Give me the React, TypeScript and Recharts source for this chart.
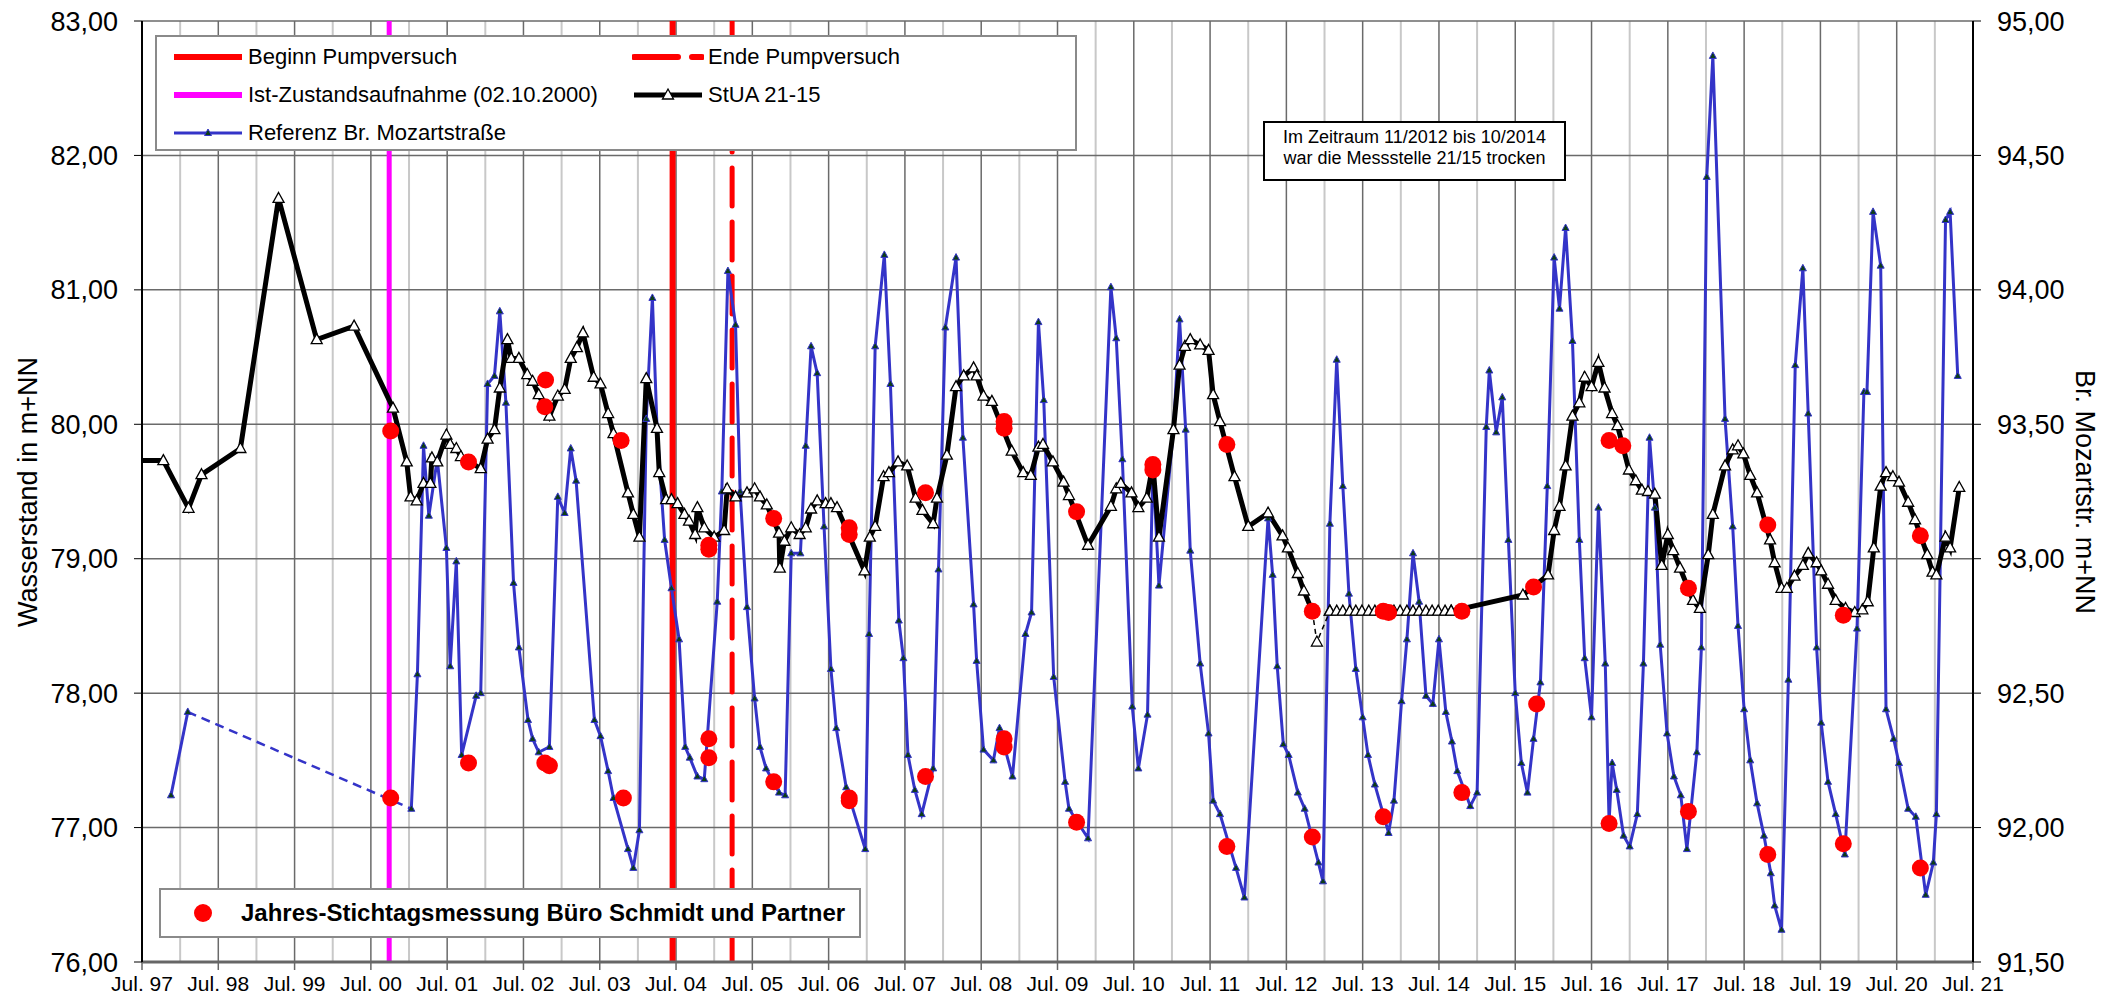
import { ComposedChart, Line, Scatter, XAxis, YAxis, CartesianGrid } from "recharts";

const FONT = '"Liberation Sans", Arial, Helvetica, sans-serif';

const X_LABELS = [
  "Jul. 97", "Jul. 98", "Jul. 99", "Jul. 00", "Jul. 01", "Jul. 02", "Jul. 03",
  "Jul. 04", "Jul. 05", "Jul. 06", "Jul. 07", "Jul. 08", "Jul. 09", "Jul. 10",
  "Jul. 11", "Jul. 12", "Jul. 13", "Jul. 14", "Jul. 15", "Jul. 16", "Jul. 17",
  "Jul. 18", "Jul. 19", "Jul. 20", "Jul. 21",
];
const JUL_TICKS = X_LABELS.map((_, i) => 1997.5 + i);
const JAN_TICKS = X_LABELS.slice(1).map((_, i) => 1998 + i);
const LEFT_TICKS = [76, 77, 78, 79, 80, 81, 82, 83];
const RIGHT_TICKS = [91.5, 92, 92.5, 93, 93.5, 94, 94.5, 95];

// event dates (decimal years)
const IST_ZUSTAND = 2000.74;
const BEGINN_PV = 2004.455;
const ENDE_PV = 2005.235;

// StUA 21-15 (left axis, m+NN)
const STUA_A: [number, number][] = [
  [1997.4, 79.73], [1997.78, 79.73], [1998.11, 79.375], [1998.28, 79.625], [1998.79, 79.82],
  [1999.29, 81.68], [1999.79, 80.63], [2000.28, 80.73], [2000.79, 80.12], [2000.97, 79.72],
  [2001.02, 79.46], [2001.1, 79.43], [2001.19, 79.56], [2001.28, 79.56], [2001.3, 79.75],
  [2001.37, 79.72], [2001.49, 79.92], [2001.54, 79.85], [2001.62, 79.82], [2001.68, 79.76],
  [2001.94, 79.67], [2002.03, 79.89], [2002.12, 79.96], [2002.19, 80.27], [2002.29, 80.63],
  [2002.34, 80.49], [2002.44, 80.49], [2002.55, 80.37], [2002.62, 80.32], [2002.7, 80.22],
  [2002.84, 80.06], [2002.95, 80.21], [2003.04, 80.26], [2003.12, 80.49], [2003.2, 80.57],
  [2003.28, 80.68], [2003.42, 80.35], [2003.51, 80.3], [2003.61, 80.08], [2003.68, 79.93],
  [2003.87, 79.49], [2003.94, 79.33], [2004.02, 79.16], [2004.11, 80.34], [2004.25, 79.97],
  [2004.28, 79.64], [2004.37, 79.44], [2004.44, 79.44], [2004.52, 79.41], [2004.61, 79.33],
  [2004.67, 79.28], [2004.75, 79.18], [2004.78, 79.38], [2004.87, 79.23], [2005.0, 79.16],
  [2005.13, 79.21], [2005.17, 79.52], [2005.28, 79.46], [2005.43, 79.49], [2005.53, 79.52],
  [2005.6, 79.46], [2005.69, 79.4], [2005.85, 79.19], [2005.86, 78.93], [2005.92, 79.13],
  [2006.01, 79.23], [2006.12, 79.18], [2006.2, 79.23], [2006.27, 79.37], [2006.35, 79.43],
  [2006.46, 79.41], [2006.53, 79.41], [2006.61, 79.38], [2006.97, 78.91], [2007.04, 79.16],
  [2007.11, 79.24], [2007.22, 79.61], [2007.29, 79.64], [2007.41, 79.72], [2007.53, 79.69],
  [2007.64, 79.45], [2007.73, 79.36], [2007.87, 79.26], [2007.92, 79.45], [2008.05, 79.77],
  [2008.17, 80.28], [2008.27, 80.36], [2008.4, 80.42], [2008.44, 80.36], [2008.53, 80.21],
  [2008.64, 80.17], [2008.9, 79.8], [2009.05, 79.64], [2009.15, 79.62], [2009.25, 79.83],
  [2009.31, 79.85], [2009.44, 79.72], [2009.58, 79.57], [2009.65, 79.47], [2009.9, 79.1],
  [2010.2, 79.39], [2010.27, 79.52], [2010.33, 79.56], [2010.47, 79.49], [2010.56, 79.38],
  [2010.67, 79.45], [2010.75, 79.7], [2010.83, 79.16], [2011.02, 79.96], [2011.1, 80.44],
  [2011.17, 80.58], [2011.24, 80.63], [2011.37, 80.59], [2011.48, 80.55], [2011.54, 80.22],
  [2011.63, 80.02], [2011.82, 79.61], [2012.0, 79.24], [2012.26, 79.34], [2012.45, 79.17],
  [2012.52, 79.08], [2012.65, 78.89], [2012.73, 78.76], [2012.84, 78.61],
];
const STUA_B: [number, number][] = [
  [2014.66, 78.61], [2015.6, 78.73], [2015.93, 78.88], [2016.01, 79.21], [2016.08, 79.39],
  [2016.16, 79.69], [2016.25, 80.06], [2016.34, 80.16], [2016.41, 80.35], [2016.5, 80.28],
  [2016.59, 80.46], [2016.67, 80.27], [2016.77, 80.08], [2016.84, 79.99], [2016.99, 79.66],
  [2017.08, 79.58], [2017.16, 79.51], [2017.24, 79.5], [2017.33, 79.48], [2017.42, 78.95],
  [2017.5, 79.18], [2017.57, 79.06], [2017.66, 78.93], [2017.83, 78.69], [2017.92, 78.63],
  [2018.03, 79.03], [2018.09, 79.33], [2018.25, 79.69], [2018.35, 79.81], [2018.42, 79.84],
  [2018.49, 79.78], [2018.58, 79.62], [2018.67, 79.49], [2018.84, 79.14], [2018.9, 78.97],
  [2018.99, 78.78], [2019.06, 78.78], [2019.16, 78.87], [2019.27, 78.95], [2019.34, 79.04],
  [2019.45, 78.97], [2019.51, 78.91], [2019.6, 78.81], [2019.7, 78.69], [2019.83, 78.63],
  [2019.95, 78.6], [2020.05, 78.62], [2020.12, 78.68], [2020.2, 79.08], [2020.29, 79.54],
  [2020.36, 79.64], [2020.45, 79.61], [2020.53, 79.57], [2020.65, 79.42], [2020.74, 79.29],
  [2020.9, 79.03], [2020.97, 78.9], [2021.02, 78.88], [2021.14, 79.16], [2021.2, 79.08],
  [2021.32, 79.53],
];
const STUA_GAP: [number, number][] = [[2012.84, 78.61], [2012.9, 78.38], [2013.07, 78.61]];
// 11/2012 - 10/2014: Messstelle trocken
const STUA_DRY: [number, number][] = [
  [2013.07, 78.61], [2013.16, 78.61], [2013.24, 78.61], [2013.33, 78.61], [2013.41, 78.61],
  [2013.49, 78.61], [2013.58, 78.61], [2013.66, 78.61], [2013.74, 78.61], [2013.83, 78.61],
  [2013.91, 78.61], [2013.99, 78.61], [2014.08, 78.61], [2014.16, 78.61], [2014.24, 78.61],
  [2014.33, 78.61], [2014.41, 78.61], [2014.49, 78.61], [2014.58, 78.61], [2014.66, 78.61],
];

// Referenz Br. Mozartstrasse (right axis, m+NN)
const MOZART_A: [number, number][] = [[1997.88, 92.12], [1998.1, 92.43]];
const MOZART_GAP: [number, number][] = [[1998.1, 92.43], [2001.03, 92.07]];
const MOZART_B: [number, number][] = [
  [2001.03, 92.07], [2001.11, 92.57], [2001.19, 93.42], [2001.26, 93.16], [2001.37, 93.37],
  [2001.49, 93.04], [2001.54, 92.6], [2001.62, 92.99], [2001.69, 92.27], [2001.88, 92.49],
  [2001.94, 92.5], [2002.03, 93.65], [2002.12, 93.68], [2002.19, 93.92], [2002.27, 93.58],
  [2002.37, 92.91], [2002.44, 92.67], [2002.56, 92.4], [2002.62, 92.33], [2002.7, 92.28],
  [2002.84, 92.3], [2002.95, 93.23], [2003.04, 93.17], [2003.12, 93.41], [2003.19, 93.29],
  [2003.43, 92.4], [2003.51, 92.34], [2003.61, 92.21], [2003.68, 92.11], [2003.87, 91.92],
  [2003.94, 91.85], [2004.02, 91.99], [2004.11, 93.52], [2004.19, 93.97], [2004.25, 93.49],
  [2004.35, 93.07], [2004.44, 92.89], [2004.54, 92.7], [2004.62, 92.3], [2004.68, 92.26],
  [2004.78, 92.19], [2004.87, 92.18], [2005.04, 92.84], [2005.1, 93.25], [2005.18, 94.07],
  [2005.28, 93.87], [2005.34, 93.25], [2005.43, 92.82], [2005.53, 92.48], [2005.6, 92.3],
  [2005.68, 92.22], [2005.85, 92.13], [2005.93, 92.12], [2006.01, 93.02], [2006.13, 93.02],
  [2006.2, 93.42], [2006.27, 93.79], [2006.35, 93.69], [2006.44, 93.12], [2006.53, 92.59],
  [2006.6, 92.37], [2006.73, 92.15], [2006.98, 91.92], [2007.03, 92.72], [2007.11, 93.79],
  [2007.23, 94.13], [2007.31, 93.65], [2007.42, 92.77], [2007.48, 92.63], [2007.54, 92.27],
  [2007.63, 92.14], [2007.72, 92.05], [2007.87, 92.22], [2007.94, 92.96], [2008.03, 93.86],
  [2008.17, 94.12], [2008.26, 93.45], [2008.4, 92.83], [2008.44, 92.62], [2008.53, 92.29],
  [2008.66, 92.25], [2008.74, 92.37], [2008.91, 92.19], [2009.08, 92.72], [2009.16, 92.8],
  [2009.25, 93.88], [2009.32, 93.59], [2009.45, 92.56], [2009.6, 92.17], [2009.65, 92.07],
  [2009.9, 91.96], [2010.2, 94.01], [2010.27, 93.82], [2010.35, 93.37], [2010.48, 92.45],
  [2010.56, 92.22], [2010.68, 92.42], [2010.75, 93.35], [2010.83, 92.9], [2011.02, 93.48],
  [2011.1, 93.89], [2011.18, 93.48], [2011.24, 93.03], [2011.37, 92.61], [2011.48, 92.35],
  [2011.54, 92.1], [2011.63, 92.05], [2011.84, 91.85], [2011.95, 91.74], [2012.26, 93.15],
  [2012.32, 92.94], [2012.38, 92.6], [2012.46, 92.31], [2012.53, 92.27], [2012.65, 92.13],
  [2012.74, 92.07], [2012.92, 91.87], [2012.98, 91.8], [2013.07, 93.13], [2013.16, 93.74],
  [2013.24, 93.27], [2013.32, 92.87], [2013.41, 92.59], [2013.5, 92.41], [2013.57, 92.27],
  [2013.66, 92.16], [2013.84, 91.98], [2013.91, 92.1], [2014.01, 92.47], [2014.08, 92.7],
  [2014.16, 93.02], [2014.24, 92.84], [2014.33, 92.49], [2014.42, 92.46], [2014.5, 92.7],
  [2014.59, 92.43], [2014.67, 92.32], [2014.74, 92.21], [2014.91, 92.08], [2015.0, 92.13],
  [2015.12, 93.49], [2015.16, 93.7], [2015.25, 93.47], [2015.33, 93.6], [2015.41, 93.07],
  [2015.5, 92.5], [2015.58, 92.24], [2015.66, 92.13], [2015.74, 92.33], [2015.83, 92.54],
  [2015.92, 93.27], [2016.01, 94.12], [2016.08, 93.93], [2016.16, 94.23], [2016.25, 93.81],
  [2016.34, 93.07], [2016.41, 92.63], [2016.5, 92.41], [2016.59, 93.19], [2016.68, 92.61],
  [2016.73, 92.02], [2016.77, 92.24], [2016.83, 92.14], [2016.92, 91.97], [2017.0, 91.93],
  [2017.1, 92.05], [2017.18, 92.61], [2017.26, 93.45], [2017.33, 93.19], [2017.4, 92.68],
  [2017.49, 92.35], [2017.58, 92.19], [2017.67, 92.12], [2017.75, 91.92], [2017.88, 92.28],
  [2017.94, 92.67], [2018.01, 94.42], [2018.09, 94.87], [2018.25, 93.52], [2018.35, 93.12],
  [2018.42, 92.75], [2018.5, 92.44], [2018.58, 92.25], [2018.67, 92.09], [2018.76, 91.97],
  [2018.85, 91.83], [2018.9, 91.71], [2018.99, 91.62], [2019.08, 92.55], [2019.17, 93.72],
  [2019.27, 94.08], [2019.34, 93.54], [2019.45, 92.67], [2019.51, 92.39], [2019.6, 92.17],
  [2019.7, 92.05], [2019.82, 91.9], [2019.98, 92.74], [2020.07, 93.62], [2020.11, 93.62],
  [2020.19, 94.29], [2020.29, 94.09], [2020.36, 92.44], [2020.46, 92.33], [2020.53, 92.24],
  [2020.65, 92.07], [2020.75, 92.04], [2020.88, 91.75], [2020.98, 91.87], [2021.02, 92.05],
  [2021.14, 94.26], [2021.2, 94.29], [2021.3, 93.68],
];

// Jahres-Stichtagsmessung Buero Schmidt und Partner
const STICHTAG_STUA: [number, number][] = [
  [2000.76, 79.95], [2001.78, 79.72], [2002.78, 80.13], [2002.79, 80.33], [2003.78, 79.88],
  [2004.93, 79.1], [2004.93, 79.07], [2005.78, 79.3], [2006.77, 79.23], [2006.77, 79.18],
  [2007.77, 79.49], [2008.8, 80.02], [2008.8, 79.97], [2009.75, 79.35], [2010.75, 79.7],
  [2010.75, 79.66], [2011.72, 79.85], [2012.84, 78.61], [2013.77, 78.61], [2013.84, 78.6],
  [2014.8, 78.61], [2015.74, 78.79], [2016.73, 79.88], [2016.91, 79.84], [2017.77, 78.78],
  [2018.81, 79.25], [2019.8, 78.58], [2020.81, 79.17],
];
const STICHTAG_MOZART: [number, number][] = [
  [2000.76, 92.11], [2001.78, 92.24], [2002.78, 92.24], [2002.84, 92.23], [2003.81, 92.11],
  [2004.93, 92.33], [2004.93, 92.26], [2005.78, 92.17], [2006.77, 92.11], [2006.77, 92.1],
  [2007.77, 92.19], [2008.8, 92.33], [2008.8, 92.3], [2009.75, 92.02], [2011.72, 91.93],
  [2012.84, 91.965], [2013.77, 92.04], [2014.8, 92.13], [2015.78, 92.46], [2016.73, 92.015],
  [2017.77, 92.06], [2018.81, 91.9], [2019.8, 91.94], [2020.81, 91.85],
];

const pts = (a: [number, number][]) => a.map(([x, y]) => ({ x, y }));
const vline = (x: number) => [{ x, y: 76 }, { x, y: 83 }];

const BLUE = "#3434c8";

const blackTri = (p: any) => {
  const { cx, cy, index } = p;
  if (cx == null || cy == null) return <g key={index} />;
  return (
    <path
      key={index}
      d={`M${cx},${cy - 6}L${cx + 5.5},${cy + 4}L${cx - 5.5},${cy + 4}Z`}
      fill="#fff"
      stroke="#000"
      strokeWidth={1.3}
    />
  );
};

const blueTri = (p: any) => {
  const { cx, cy, index } = p;
  if (cx == null || cy == null) return <g key={index} />;
  return (
    <path
      key={index}
      d={`M${cx},${cy - 4}L${cx + 3.5},${cy + 2.5}L${cx - 3.5},${cy + 2.5}Z`}
      fill="#0b3d16"
      stroke={BLUE}
      strokeWidth={1}
    />
  );
};

const redDot = (p: any) => <circle cx={p.cx} cy={p.cy} r={8.5} fill="#ff0000" />;

const fmt = (v: number) => v.toFixed(2).replace(".", ",");

function TopLegend() {
  const row = (y: number) => ({ position: "absolute" as const, top: y - 14, height: 28, display: "flex", alignItems: "center" });
  const txt = { fontFamily: FONT, fontSize: 22, color: "#000", whiteSpace: "nowrap" as const };
  return (
    <div
      style={{
        position: "absolute", left: 155, top: 35, width: 918, height: 112,
        background: "#fff", border: "2px solid #8a8a8a",
      }}
    >
      <div style={{ ...row(20), left: 15 }}>
        <svg width={72} height={20}><line x1={2} y1={10} x2={70} y2={10} stroke="#ff0000" strokeWidth={6} /></svg>
        <span style={{ ...txt, marginLeft: 4 }}>Beginn Pumpversuch</span>
      </div>
      <div style={{ ...row(58), left: 15 }}>
        <svg width={72} height={20}><line x1={2} y1={10} x2={70} y2={10} stroke="#ff00ff" strokeWidth={6} /></svg>
        <span style={{ ...txt, marginLeft: 4 }}>Ist-Zustandsaufnahme (02.10.2000)</span>
      </div>
      <div style={{ ...row(96), left: 15 }}>
        <svg width={72} height={20}>
          <line x1={2} y1={10} x2={70} y2={10} stroke={BLUE} strokeWidth={3} />
          <path d="M36,6L39.5,12.5L32.5,12.5Z" fill="#0b3d16" stroke={BLUE} strokeWidth={1} />
        </svg>
        <span style={{ ...txt, marginLeft: 4 }}>Referenz Br. Mozartstraße</span>
      </div>
      <div style={{ ...row(20), left: 475 }}>
        <svg width={72} height={20}><line x1={2} y1={10} x2={70} y2={10} stroke="#ff0000" strokeWidth={6} strokeDasharray="44 14" strokeLinecap="round" /></svg>
        <span style={{ ...txt, marginLeft: 4 }}>Ende Pumpversuch</span>
      </div>
      <div style={{ ...row(58), left: 475 }}>
        <svg width={72} height={20}>
          <line x1={2} y1={10} x2={70} y2={10} stroke="#000" strokeWidth={5} />
          <path d="M36,4L41.5,14L30.5,14Z" fill="#fff" stroke="#000" strokeWidth={1.3} />
        </svg>
        <span style={{ ...txt, marginLeft: 4 }}>StUA 21-15</span>
      </div>
    </div>
  );
}

export default function App() {
  return (
    <div style={{ position: "relative", width: 2107, height: 998, background: "#fff" }}>
      <style>{`body{margin:0;overflow:hidden;}`}</style>
      <ComposedChart width={2107} height={998} margin={{ top: 21, right: 44, bottom: 0, left: 62 }}>
        <XAxis
          xAxisId="jan" type="number" dataKey="x" domain={[1997.5, 2021.5]}
          ticks={JAN_TICKS} hide allowDataOverflow
        />
        <XAxis
          type="number" dataKey="x" domain={[1997.5, 2021.5]} ticks={JUL_TICKS} interval={0}
          allowDataOverflow height={36}
          tickFormatter={(v: number) => X_LABELS[Math.round(v - 1997.5)] ?? ""}
          tick={{ fontSize: 21, fill: "#000", fontFamily: FONT }}
          tickSize={8} tickMargin={6}
          axisLine={{ stroke: "#666", strokeWidth: 3 }} tickLine={{ stroke: "#666", strokeWidth: 1.5 }}
        />
        <YAxis
          yAxisId="l" dataKey="y" type="number" domain={[76, 83]} ticks={LEFT_TICKS} width={80}
          tickFormatter={fmt} tick={{ fontSize: 27, fill: "#000", fontFamily: FONT }}
          tickSize={8} tickMargin={16} allowDataOverflow
          axisLine={{ stroke: "#000", strokeWidth: 2 }} tickLine={{ stroke: "#000" }}
        />
        <YAxis
          yAxisId="r" orientation="right" dataKey="y" type="number" domain={[91.5, 95]}
          ticks={RIGHT_TICKS} width={90} tickFormatter={fmt}
          tick={{ fontSize: 27, fill: "#000", fontFamily: FONT }}
          tickSize={8} tickMargin={16} allowDataOverflow
          axisLine={{ stroke: "#000", strokeWidth: 2 }} tickLine={{ stroke: "#000" }}
        />
        <CartesianGrid xAxisId="jan" yAxisId="l" horizontal={false} stroke="#c8c8c8" strokeWidth={2} />
        <CartesianGrid yAxisId="l" stroke="#6a6a6a" strokeWidth={1.5} />

        <Line yAxisId="l" data={vline(IST_ZUSTAND)} dataKey="y" stroke="#ff00ff" strokeWidth={5} dot={false} activeDot={false} isAnimationActive={false} />
        <Line yAxisId="l" data={vline(BEGINN_PV)} dataKey="y" stroke="#ff0000" strokeWidth={6} dot={false} activeDot={false} isAnimationActive={false} />
        <Line yAxisId="l" data={vline(ENDE_PV)} dataKey="y" stroke="#ff0000" strokeWidth={5} strokeDasharray="38 16" strokeLinecap="round" dot={false} activeDot={false} isAnimationActive={false} />

        <Line yAxisId="r" data={pts(MOZART_GAP)} dataKey="y" stroke={BLUE} strokeWidth={2.5} strokeDasharray="9 6" dot={false} activeDot={false} isAnimationActive={false} />
        <Line yAxisId="r" data={pts(MOZART_A)} dataKey="y" stroke={BLUE} strokeWidth={3} dot={blueTri} activeDot={false} isAnimationActive={false} />
        <Line yAxisId="r" data={pts(MOZART_B)} dataKey="y" stroke={BLUE} strokeWidth={3} dot={blueTri} activeDot={false} isAnimationActive={false} />

        <Line yAxisId="l" data={pts(STUA_GAP)} dataKey="y" stroke="#000" strokeWidth={1.5} strokeDasharray="5 4" dot={blackTri} activeDot={false} isAnimationActive={false} />
        <Line yAxisId="l" data={pts(STUA_DRY)} dataKey="y" stroke="#000" strokeWidth={1.5} dot={blackTri} activeDot={false} isAnimationActive={false} />
        <Line yAxisId="l" data={pts(STUA_A)} dataKey="y" stroke="#000" strokeWidth={5} dot={blackTri} activeDot={false} isAnimationActive={false} />
        <Line yAxisId="l" data={pts(STUA_B)} dataKey="y" stroke="#000" strokeWidth={5} dot={blackTri} activeDot={false} isAnimationActive={false} />

        <Scatter yAxisId="r" data={pts(STICHTAG_MOZART)} dataKey="y" shape={redDot} isAnimationActive={false} />
        <Scatter yAxisId="l" data={pts(STICHTAG_STUA)} dataKey="y" shape={redDot} isAnimationActive={false} />
      </ComposedChart>

      <TopLegend />

      <div
        style={{
          position: "absolute", left: 1263, top: 121, width: 299, height: 52,
          border: "2px solid #000", background: "#fff", fontFamily: FONT, fontSize: 18,
          textAlign: "center", lineHeight: "21px", paddingTop: 4, boxSizing: "content-box",
        }}
      >
        <div>Im Zeitraum 11/2012 bis 10/2014</div>
        <div>war die Messstelle 21/15 trocken</div>
      </div>

      <div
        style={{
          position: "absolute", left: 159, top: 888, width: 698, height: 46,
          border: "2px solid #8a8a8a", background: "#fff", display: "flex", alignItems: "center",
        }}
      >
        <svg width={80} height={30}><circle cx={42} cy={15} r={9} fill="#ff0000" /></svg>
        <span style={{ fontFamily: FONT, fontSize: 24, fontWeight: "bold", whiteSpace: "nowrap" }}>
          Jahres-Stichtagsmessung Büro Schmidt und Partner
        </span>
      </div>

      <div
        style={{
          position: "absolute", left: 28, top: 492, transform: "translate(-50%, -50%) rotate(-90deg)",
          fontFamily: FONT, fontSize: 27, whiteSpace: "nowrap",
        }}
      >
        Wasserstand in m+NN
      </div>
      <div
        style={{
          position: "absolute", left: 2084, top: 492, transform: "translate(-50%, -50%) rotate(90deg)",
          fontFamily: FONT, fontSize: 27, whiteSpace: "nowrap",
        }}
      >
        Br. Mozartstr. m+NN
      </div>
    </div>
  );
}
